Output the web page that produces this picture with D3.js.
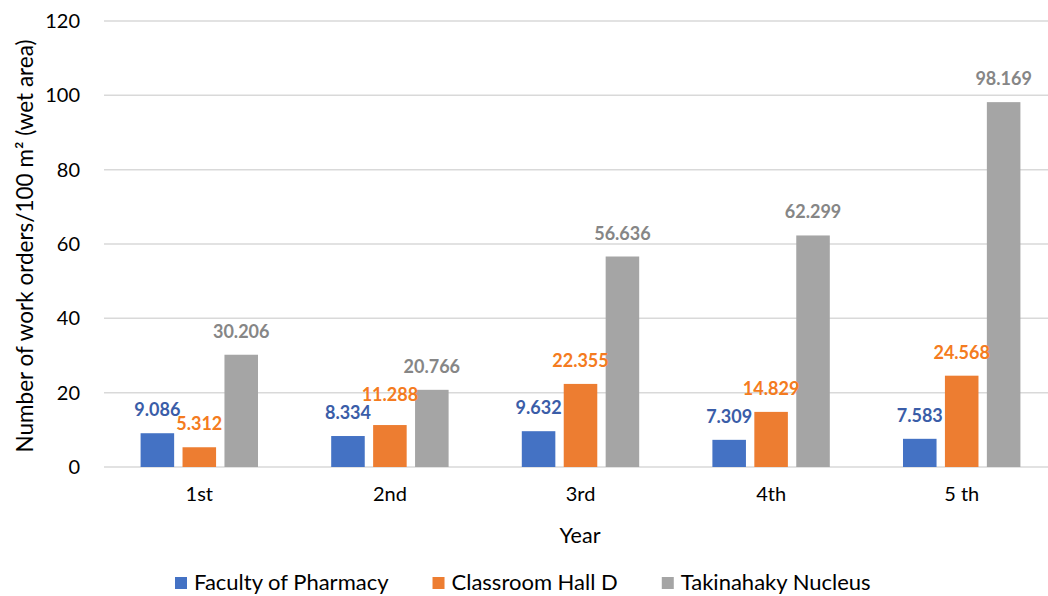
<!DOCTYPE html>
<html>
<head>
<meta charset="utf-8">
<script src="https://cdn.jsdelivr.net/npm/d3@7"></script>
<style>
  body { margin: 0; background: #fff; overflow: hidden; }
  svg { font-family: Lato, "Open Sans", sans-serif; display: block; }
</style>
</head>
<body>
<div id="chart"></div>
<script>
// data
var years = ["1st", "2nd", "3rd", "4th", "5 th"];
var seriesNames = ["Faculty of Pharmacy", "Classroom Hall D", "Takinahaky Nucleus"];
var pharmacy = [9.086, 8.334, 9.632, 7.309, 7.583];
var hallD = [5.312, 11.288, 22.355, 14.829, 24.568];
var takinahaky = [30.206, 20.766, 56.636, 62.299, 98.169];
var yTicks = [0, 20, 40, 60, 80, 100, 120];

var barColors = ["#4472C4", "#ED7D31", "#A5A5A5"];
var labelColors = ["#3A5DA8", "#F47B20", "#868686"];

var w = 1048, h = 596;
// the original plot area runs a little past the right edge of the image
var plotLeft = 104, plotRight = 1057, plotTop = 21, plotBottom = 467;

var svg = d3.select("#chart").append("svg")
  .attr("width", w).attr("height", h);

var x0 = d3.scaleBand()
  .domain(years)
  .range([plotLeft, plotRight])
  .paddingInner(0.384)
  .paddingOuter(0.192);

var x1 = d3.scaleBand()
  .domain(d3.range(3))
  .range([0, x0.bandwidth()])
  .paddingInner(0.2);

var y = d3.scaleLinear()
  .domain([0, 120])
  .range([plotBottom, plotTop]);

// gridlines
svg.append("g")
  .selectAll("line")
  .data(yTicks)
  .join("line")
  .attr("x1", plotLeft)
  .attr("x2", plotRight)
  .attr("y1", d => y(d))
  .attr("y2", d => y(d))
  .attr("stroke", "#D9D9D9")
  .attr("stroke-width", 1.5);

// y tick labels
var yAxis = svg.append("g")
  .attr("transform", "translate(" + (plotLeft - 24) + ",0)")
  .call(d3.axisLeft(y).tickValues(yTicks).tickSize(0).tickPadding(0));
yAxis.select(".domain").remove();
yAxis.selectAll("text")
  .attr("font-size", 20)
  .attr("fill", "#000")
  .attr("font-family", "Lato, sans-serif");

// x tick labels
var xAxis = svg.append("g")
  .attr("transform", "translate(0," + y(0) + ")")
  .call(d3.axisBottom(x0).tickSize(0).tickPadding(20));
xAxis.select(".domain").remove();
xAxis.selectAll("text")
  .attr("font-size", 20)
  .attr("fill", "#000")
  .attr("font-family", "Lato, sans-serif");

// bars
var rows = years.map((yr, i) => ({
  year: yr,
  vals: [pharmacy[i], hallD[i], takinahaky[i]]
}));

var groups = svg.append("g")
  .selectAll("g")
  .data(rows)
  .join("g")
  .attr("transform", d => "translate(" + x0(d.year) + ",0)");

groups.selectAll("rect")
  .data(d => d.vals.map((v, k) => ({k: k, v: v})))
  .join("rect")
  .attr("x", d => x1(d.k))
  .attr("width", x1.bandwidth())
  .attr("y", d => y(d.v))
  .attr("height", d => y(0) - y(d.v))
  .attr("fill", d => barColors[d.k]);

// data labels, with a small lift when two neighbours would collide
function labelItems(d) {
  var items = d.vals.map((v, k) => ({k: k, v: v, ly: y(v) - 17}));
  for (var k = 1; k < items.length; k++) {
    var prev = items[k - 1].ly;
    if (items[k].ly < prev + 4 && items[k].ly > prev - 13) items[k].ly = prev - 18;
  }
  return items;
}

groups.selectAll("text")
  .data(labelItems)
  .join("text")
  .attr("x", d => x1(d.k) + x1.bandwidth() / 2)
  .attr("y", d => d.ly)
  .attr("text-anchor", "middle")
  .attr("font-size", 18)
  .attr("font-weight", "bold")
  .attr("fill", d => labelColors[d.k])
  .text(d => d3.format(".3f")(d.v));

// axis titles
svg.append("text")
  .attr("x", 580)
  .attr("y", 543)
  .attr("text-anchor", "middle")
  .attr("font-size", 21.5)
  .text("Year");

svg.append("text")
  .attr("transform", "translate(33," + ((y(0) + y(120)) / 2 + 2) + ") rotate(-90)")
  .attr("text-anchor", "middle")
  .attr("font-size", 22.5)
  .text("Number of work orders/100 m\u00B2 (wet area)");

// legend
var legend = svg.append("g");
var lx = 175;
seriesNames.forEach(function(name, k) {
  legend.append("rect")
    .attr("x", lx).attr("y", 577)
    .attr("width", 12).attr("height", 12)
    .attr("fill", barColors[k]);
  var t = legend.append("text")
    .attr("x", lx + 19).attr("y", 590)
    .attr("font-size", 22)
    .text(name);
  lx += 19 + t.node().getComputedTextLength() + 44;
});
</script>
</body>
</html>
